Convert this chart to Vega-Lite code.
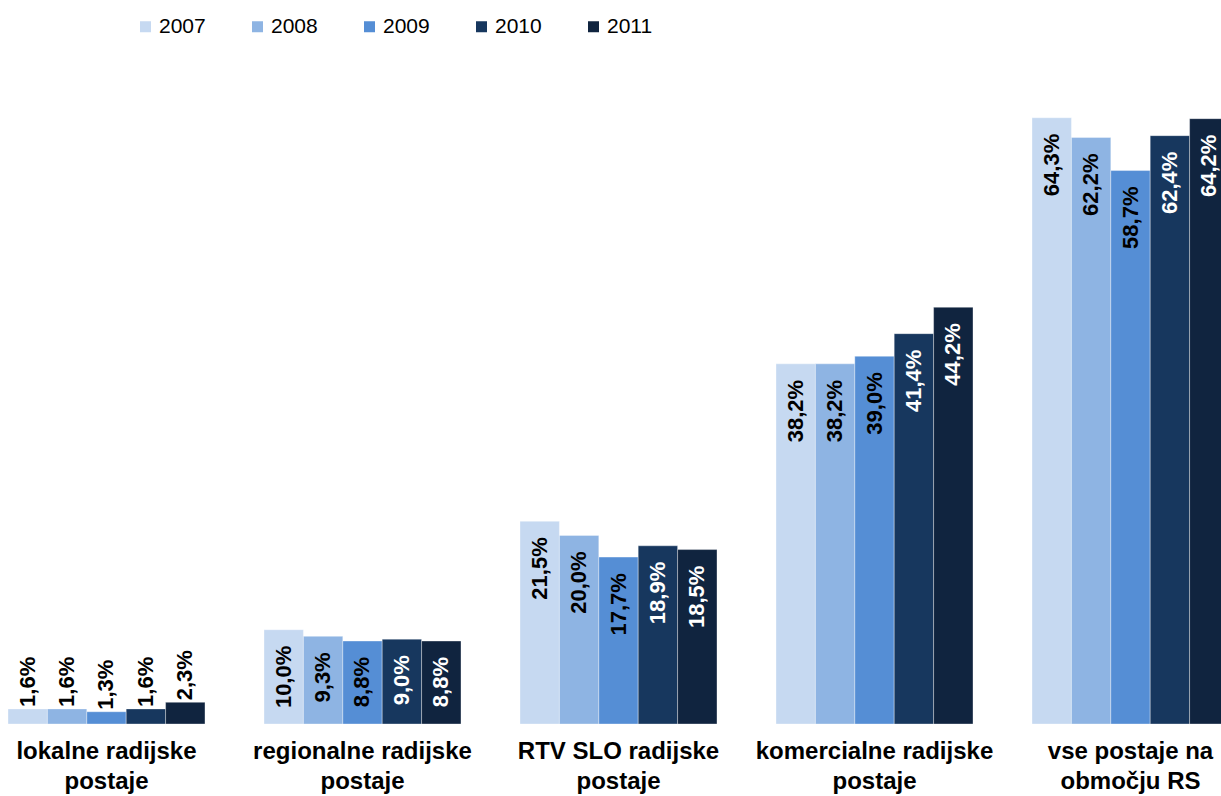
{
  "$schema": "https://vega.github.io/schema/vega-lite/v6.json",
  "width": 1221,
  "height": 660,
  "autosize": {"type": "none"},
  "padding": {"left": 0, "top": 64, "right": 0, "bottom": 72},
  "background": "white",
  "config": {"view": {"stroke": null}, "font": "Liberation Sans"},
  "data": {
    "values": [
      {"cat": "lokalne radijske|postaje", "year": "2007", "value": 1.6},
      {"cat": "lokalne radijske|postaje", "year": "2008", "value": 1.6},
      {"cat": "lokalne radijske|postaje", "year": "2009", "value": 1.3},
      {"cat": "lokalne radijske|postaje", "year": "2010", "value": 1.6},
      {"cat": "lokalne radijske|postaje", "year": "2011", "value": 2.3},
      {"cat": "regionalne radijske|postaje", "year": "2007", "value": 10.0},
      {"cat": "regionalne radijske|postaje", "year": "2008", "value": 9.3},
      {"cat": "regionalne radijske|postaje", "year": "2009", "value": 8.8},
      {"cat": "regionalne radijske|postaje", "year": "2010", "value": 9.0},
      {"cat": "regionalne radijske|postaje", "year": "2011", "value": 8.8},
      {"cat": "RTV SLO radijske|postaje", "year": "2007", "value": 21.5},
      {"cat": "RTV SLO radijske|postaje", "year": "2008", "value": 20.0},
      {"cat": "RTV SLO radijske|postaje", "year": "2009", "value": 17.7},
      {"cat": "RTV SLO radijske|postaje", "year": "2010", "value": 18.9},
      {"cat": "RTV SLO radijske|postaje", "year": "2011", "value": 18.5},
      {"cat": "komercialne radijske|postaje", "year": "2007", "value": 38.2},
      {"cat": "komercialne radijske|postaje", "year": "2008", "value": 38.2},
      {"cat": "komercialne radijske|postaje", "year": "2009", "value": 39.0},
      {"cat": "komercialne radijske|postaje", "year": "2010", "value": 41.4},
      {"cat": "komercialne radijske|postaje", "year": "2011", "value": 44.2},
      {"cat": "vse postaje na|območju RS", "year": "2007", "value": 64.3},
      {"cat": "vse postaje na|območju RS", "year": "2008", "value": 62.2},
      {"cat": "vse postaje na|območju RS", "year": "2009", "value": 58.7},
      {"cat": "vse postaje na|območju RS", "year": "2010", "value": 62.4},
      {"cat": "vse postaje na|območju RS", "year": "2011", "value": 64.2}
    ]
  },
  "transform": [
    {"calculate": "replace(format(datum.value, '.1f'), '.', ',') + '%'", "as": "label"}
  ],
  "encoding": {
    "x": {
      "field": "cat",
      "type": "nominal",
      "sort": null,
      "scale": {"range": [-21.5, 1258.5], "paddingInner": 0.2305, "paddingOuter": 0.1152},
      "axis": {
        "title": null,
        "domain": false,
        "ticks": false,
        "labelAngle": 0,
        "labelExpr": "split(datum.label, '|')",
        "labelFont": "Liberation Sans",
        "labelFontWeight": "bold",
        "labelFontSize": 24,
        "labelLineHeight": 30,
        "labelLimit": 0,
        "labelColor": "#000000",
        "labelPadding": 15,
        "labelBaseline": "top"
      }
    },
    "xOffset": {"field": "year", "type": "nominal", "sort": null, "scale": {"paddingInner": 0, "paddingOuter": 0}},
    "y": {"field": "value", "type": "quantitative", "scale": {"domain": [0, 70], "nice": false}, "axis": null}
  },
  "layer": [
    {
      "mark": {"type": "bar", "stroke": "#ffffff", "strokeOpacity": 0.35, "strokeWidth": 1},
      "encoding": {
        "color": {
          "field": "year",
          "type": "nominal",
          "scale": {"domain": ["2007", "2008", "2009", "2010", "2011"], "range": ["#C6D9F1", "#8EB4E3", "#558ED5", "#17375E", "#10243F"]},
          "legend": {
            "title": null,
            "orient": "none",
            "direction": "horizontal",
            "legendX": 135,
            "legendY": -48,
            "symbolType": "square",
            "symbolSize": 121,
            "symbolStrokeWidth": 0,
            "labelFont": "Liberation Sans",
            "labelFontSize": 21,
            "labelColor": "#000000",
            "labelOffset": 3,
            "columnPadding": 41,
            "padding": 0
          }
        }
      }
    },
    {
      "transform": [{"filter": "datum.value >= 5"}],
      "mark": {"type": "text", "angle": 270, "align": "right", "baseline": "middle", "dx": -16, "fontSize": 22, "fontWeight": "bold", "font": "Liberation Sans"},
      "encoding": {
        "text": {"field": "label", "type": "nominal"},
        "color": {"condition": {"test": "datum.year >= '2010'", "value": "#ffffff"}, "value": "#000000"}
      }
    },
    {
      "transform": [{"filter": "datum.value < 5"}],
      "mark": {"type": "text", "angle": 270, "align": "left", "baseline": "middle", "dx": 2, "fontSize": 22, "fontWeight": "bold", "font": "Liberation Sans", "color": "#000000"},
      "encoding": {
        "text": {"field": "label", "type": "nominal"}
      }
    }
  ]
}
